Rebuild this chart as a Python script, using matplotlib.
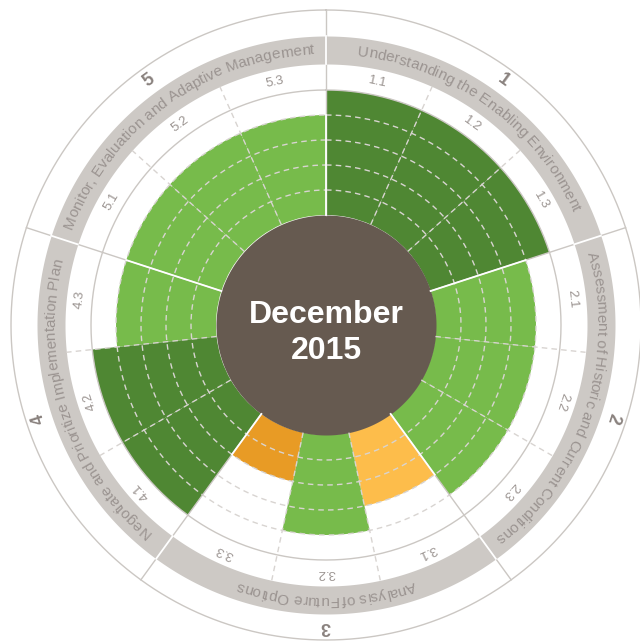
import numpy as np
import matplotlib
matplotlib.use("Agg")
import matplotlib.pyplot as plt
from matplotlib.font_manager import FontProperties, findfont, get_font

# data
sections = ["Understanding the Enabling Environment",
            "Assessment of Historic and Current Conditions",
            "Analysis of Future Options",
            "Negotiate and Prioritize Implementation Plan",
            "Monitor, Evaluation and Adaptive Management"]
section_numbers = ["1", "2", "3", "4", "5"]
sub_labels = ["1.1", "1.2", "1.3", "2.1", "2.2", "2.3", "3.1", "3.2", "3.3",
              "4.1", "4.2", "4.3", "5.1", "5.2", "5.3"]
scores = [5, 5, 5, 4, 4, 4, 3, 4, 2, 5, 5, 4, 4, 4, 4]
center_title = "December\n2015"

# styles
score_colors = {5: "#4f8733", 4: "#77bb4b", 3: "#fdbd4b", 2: "#e89b25"}
brown = "#665a50"
band_col = "#cdc9c5"
line_col = "#cbc7c3"
dash_col = "#d8d4d1"
text_col = "#9b9491"
num_col = "#8a827e"

INNER = 110
STEP = 25
R_RING = 235
BAND_IN, BAND_OUT = 261, 289
R_OUT = 315
CX, CY = 326, 644 - 325
R_LIM = 318
DPI = 100

fig = plt.figure(figsize=(6.4, 6.44), dpi=DPI)
ax = fig.add_axes([(CX - R_LIM) / 640, (CY - R_LIM) / 644, 2 * R_LIM / 640, 2 * R_LIM / 644],
                  projection="polar")
ax.set_theta_zero_location("N")
ax.set_theta_direction(-1)
ax.set_ylim(0, R_LIM)
ax.set_axis_off()

n = len(scores)
seg = 2 * np.pi / n
centers = np.arange(n) * seg + seg / 2
full = np.linspace(0, 2 * np.pi, 721)

# bars
ax.bar(centers, np.array(scores) * STEP, width=seg, bottom=INNER,
       color=[score_colors[s] for s in scores], linewidth=0, zorder=1)

# center + band
ax.fill_between(full, 0, INNER, color=brown, lw=0, zorder=2)
ax.fill_between(full, BAND_IN, BAND_OUT, color=band_col, lw=0, zorder=1)

# dashed grid
for lv in range(1, 5):
    ax.plot(full, np.full_like(full, INNER + lv * STEP), color=dash_col, lw=1,
            ls=(0, (4, 3)), zorder=3)
for i in range(n):
    if i % 3 != 0:
        ax.plot([i * seg, i * seg], [INNER, BAND_IN], color=dash_col, lw=1,
                ls=(0, (4, 3)), zorder=3)

# solid circles
ax.plot(full, np.full_like(full, R_RING), color=line_col, lw=1, zorder=3)
ax.plot(full, np.full_like(full, R_OUT), color=line_col, lw=1, zorder=3)

# section boundaries
for k in range(5):
    th = k * 3 * seg
    ax.plot([th, th], [INNER, R_OUT], color=line_col, lw=1, zorder=4)
    rmin = INNER + STEP * min(scores[(3 * k - 1) % n], scores[3 * k])
    ax.plot([th, th], [INNER, rmin], color="white", lw=1.3, zorder=4)
    ax.plot([th, th], [BAND_IN, BAND_OUT], color="white", lw=1.3, zorder=4)

# sub labels
sub_prop = FontProperties(family="Liberation Sans", size=9.5)
for c, lab in zip(centers, sub_labels):
    ax.text(c, 248, lab, rotation=-np.degrees(c), rotation_mode="anchor",
            ha="center", va="center", fontproperties=sub_prop, color=text_col, zorder=5)

# curved section titles
band_prop = FontProperties(family="Liberation Sans", size=11)


def advances(s, prop):
    font = get_font(findfont(prop))
    font.set_size(prop.get_size_in_points(), DPI)
    return np.array([font.load_char(ord(ch)).linearHoriAdvance / 65536 for ch in s])


def curved_text(s, theta_c, r_base, prop, color):
    adv = advances(s, prop)
    pos = np.cumsum(adv) - adv / 2 - adv.sum() / 2
    for ch, p in zip(s, pos):
        if ch == " ":
            continue
        th = theta_c + p / r_base
        ax.text(th, r_base, ch, rotation=-np.degrees(th), rotation_mode="anchor",
                ha="center", va="baseline", fontproperties=prop, color=color, zorder=5)


num_prop = FontProperties(family="Liberation Sans", size=13, weight="bold")
for k, (title, num) in enumerate(zip(sections, section_numbers)):
    tc = (k * 3 + 1.5) * seg
    curved_text(title, tc, 271, band_prop, text_col)
    ax.text(tc, 302, num, rotation=-np.degrees(tc), rotation_mode="anchor",
            ha="center", va="center", fontproperties=num_prop, color=num_col, zorder=5)

ax.text(np.pi, 8, center_title, ha="center", va="center", color="white",
        fontsize=23, fontweight="bold", family="Liberation Sans", linespacing=1.23, zorder=6)

fig.savefig("out.png", dpi=DPI)
